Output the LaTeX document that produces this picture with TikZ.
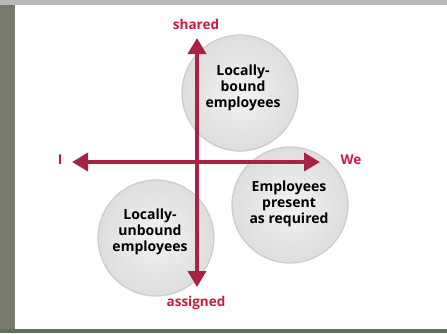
\documentclass[tikz,border=0pt]{standalone}
\usepackage{fontspec}
\setmainfont{Open Sans}
\usetikzlibrary{arrows.meta,shadows}
\definecolor{axis}{HTML}{A82343}
\definecolor{lab}{HTML}{C41E3F}
\definecolor{bgframe}{HTML}{787B6C}
\definecolor{disc}{HTML}{DCDCDC}
\begin{document}
\begin{tikzpicture}[x=1pt,y=-1pt,
  discstyle/.style={circle,minimum size=116pt,inner sep=0pt,draw=gray!40,line width=1.2pt,
    inner color=gray!10,outer color=gray!26},
  disctext/.style={font=\bfseries\fontsize{14}{16}\selectfont,align=center,text=black},
  axislabel/.style={font=\bfseries\fontsize{13.5}{15}\selectfont,text=lab,inner sep=1pt},
  axisarrow/.style={draw=axis,line width=3.6pt,{Triangle[width=18pt,length=16pt]}-{Triangle[width=18pt,length=16pt]}}]
\useasboundingbox (0,0) rectangle (447,333);
\fill[bgframe] (0,0) rectangle (447,333);
\fill[gray!55] (0,0) rectangle (447,5);
\fill[black!65!green!30!gray] (0,329) rectangle (447,333);
\fill[white] (15,5) rectangle (447,329);
% discs
\node[discstyle] (dtop) at (240,93) {};
\node[discstyle] (dright) at (290,205) {};
\node[discstyle] (dleft) at (156,238) {};
% axes
\coordinate (vtop) at (197,38);
\coordinate (vbot) at (197,287);
\coordinate (hl) at (72,162);
\coordinate (hr) at (320,162);
\draw[axisarrow] (vbot) -- (vtop);
\draw[axisarrow] (hl) -- (hr);
% texts
\node[disctext] (ttop) at (243,88) {Locally-\\bound\\employees};
\node[disctext] (tright) at (289,204) {Employees\\present\\as required};
\node[disctext] (tleft) at (150,232) {Locally-\\unbound\\employees};
\node[axislabel] (shared) at (196,24) {shared};
\node[axislabel] (assigned) at (196,303) {assigned};
\node[axislabel] (i) at (60,160) {I};
\node[axislabel] (we) at (351,160) {We};
\end{tikzpicture}
\end{document}
